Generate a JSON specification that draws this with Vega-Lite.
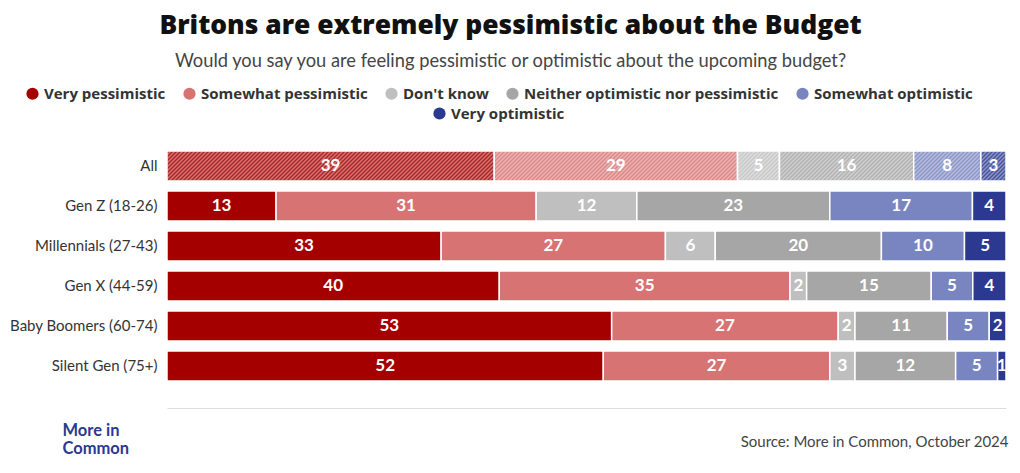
{
  "$schema": "https://vega.github.io/schema/vega-lite/v6.json",
  "width": 839,
  "height": 240,
  "autosize": {"type": "none"},
  "padding": {"left": 167, "top": 146, "right": 14, "bottom": 87},
  "background": "white",
  "config": {
    "font": "Lato",
    "view": {"stroke": null},
    "legend": {"labelFont": "Open Sans", "labelFontSize": 15, "labelFontWeight": "bold", "labelColor": "#333333", "labelLimit": 0, "symbolSize": 150, "symbolStrokeWidth": 0, "labelOffset": 4, "columnPadding": 16}
  },
  "title": {
    "text": "Britons are extremely pessimistic about the Budget",
    "subtitle": "Would you say you are feeling pessimistic or optimistic about the upcoming budget?",
    "anchor": "middle",
    "frame": "group",
    "dx": -76,
    "font": "Open Sans",
    "fontSize": 26.4,
    "fontWeight": 800,
    "color": "#111111",
    "subtitleFont": "Lato",
    "subtitleFontSize": 18.3,
    "subtitleColor": "#444444",
    "subtitleFontWeight": "normal",
    "subtitlePadding": 13,
    "offset": 16
  },
  "data": {
    "values": [
      {"group": "All", "category": "Very pessimistic", "order": 1, "value": 39},
      {"group": "All", "category": "Somewhat pessimistic", "order": 2, "value": 29},
      {"group": "All", "category": "Don't know", "order": 3, "value": 5},
      {"group": "All", "category": "Neither optimistic nor pessimistic", "order": 4, "value": 16},
      {"group": "All", "category": "Somewhat optimistic", "order": 5, "value": 8},
      {"group": "All", "category": "Very optimistic", "order": 6, "value": 3},
      {"group": "Gen Z (18-26)", "category": "Very pessimistic", "order": 1, "value": 13},
      {"group": "Gen Z (18-26)", "category": "Somewhat pessimistic", "order": 2, "value": 31},
      {"group": "Gen Z (18-26)", "category": "Don't know", "order": 3, "value": 12},
      {"group": "Gen Z (18-26)", "category": "Neither optimistic nor pessimistic", "order": 4, "value": 23},
      {"group": "Gen Z (18-26)", "category": "Somewhat optimistic", "order": 5, "value": 17},
      {"group": "Gen Z (18-26)", "category": "Very optimistic", "order": 6, "value": 4},
      {"group": "Millennials (27-43)", "category": "Very pessimistic", "order": 1, "value": 33},
      {"group": "Millennials (27-43)", "category": "Somewhat pessimistic", "order": 2, "value": 27},
      {"group": "Millennials (27-43)", "category": "Don't know", "order": 3, "value": 6},
      {"group": "Millennials (27-43)", "category": "Neither optimistic nor pessimistic", "order": 4, "value": 20},
      {"group": "Millennials (27-43)", "category": "Somewhat optimistic", "order": 5, "value": 10},
      {"group": "Millennials (27-43)", "category": "Very optimistic", "order": 6, "value": 5},
      {"group": "Gen X (44-59)", "category": "Very pessimistic", "order": 1, "value": 40},
      {"group": "Gen X (44-59)", "category": "Somewhat pessimistic", "order": 2, "value": 35},
      {"group": "Gen X (44-59)", "category": "Don't know", "order": 3, "value": 2},
      {"group": "Gen X (44-59)", "category": "Neither optimistic nor pessimistic", "order": 4, "value": 15},
      {"group": "Gen X (44-59)", "category": "Somewhat optimistic", "order": 5, "value": 5},
      {"group": "Gen X (44-59)", "category": "Very optimistic", "order": 6, "value": 4},
      {"group": "Baby Boomers (60-74)", "category": "Very pessimistic", "order": 1, "value": 53},
      {"group": "Baby Boomers (60-74)", "category": "Somewhat pessimistic", "order": 2, "value": 27},
      {"group": "Baby Boomers (60-74)", "category": "Don't know", "order": 3, "value": 2},
      {"group": "Baby Boomers (60-74)", "category": "Neither optimistic nor pessimistic", "order": 4, "value": 11},
      {"group": "Baby Boomers (60-74)", "category": "Somewhat optimistic", "order": 5, "value": 5},
      {"group": "Baby Boomers (60-74)", "category": "Very optimistic", "order": 6, "value": 2},
      {"group": "Silent Gen (75+)", "category": "Very pessimistic", "order": 1, "value": 52},
      {"group": "Silent Gen (75+)", "category": "Somewhat pessimistic", "order": 2, "value": 27},
      {"group": "Silent Gen (75+)", "category": "Don't know", "order": 3, "value": 3},
      {"group": "Silent Gen (75+)", "category": "Neither optimistic nor pessimistic", "order": 4, "value": 12},
      {"group": "Silent Gen (75+)", "category": "Somewhat optimistic", "order": 5, "value": 5},
      {"group": "Silent Gen (75+)", "category": "Very optimistic", "order": 6, "value": 1}
    ]
  },
  "encoding": {
    "y": {
      "field": "group",
      "type": "nominal",
      "sort": ["All", "Gen Z (18-26)", "Millennials (27-43)", "Gen X (44-59)", "Baby Boomers (60-74)", "Silent Gen (75+)"],
      "scale": {"paddingInner": 0.25, "paddingOuter": 0.125},
      "axis": {
        "domain": false,
        "ticks": false,
        "labelFontSize": 15,
        "labelColor": "#333333",
        "labelPadding": 10,
        "title": ["More in", "Common"],
        "titleAngle": 0,
        "titleX": -105,
        "titleY": 289,
        "titleAlign": "left",
        "titleBaseline": "alphabetic",
        "titleFontSize": 16.5,
        "titleFontWeight": "bold",
        "titleColor": "#2b3990",
        "titleLineHeight": 18
      }
    }
  },
  "layer": [
    {
      "transform": [{"filter": "datum.category === 'Very optimistic'"}],
      "mark": {"type": "point", "filled": true, "opacity": 1, "size": 4, "color": "#2b3990"},
      "encoding": {
        "x": {"field": "value", "type": "quantitative", "stack": "normalize", "bandPosition": 0.5, "scale": {"domain": [0, 1]}},
        "shape": {
          "field": "category",
          "type": "nominal",
          "scale": {"range": ["circle"]},
          "legend": {"title": null, "orient": "none", "direction": "horizontal", "legendX": 265, "legendY": -40, "symbolType": "circle", "symbolFillColor": "#2b3990"}
        }
      }
    },
    {
      "mark": {"type": "bar", "stroke": "white", "strokeWidth": 1.5},
      "encoding": {
        "x": {
          "field": "value",
          "type": "quantitative",
          "stack": "normalize",
          "scale": {"domain": [0, 1]},
          "axis": {
            "orient": "bottom",
            "offset": 22,
            "domain": true,
            "domainColor": "#dddddd",
            "labels": false,
            "ticks": false,
            "grid": false,
            "title": "Source: More in Common, October 2024",
            "titleFontSize": 15,
            "titleFontWeight": "normal",
            "titleColor": "#444444",
            "titleAnchor": "end",
            "titleAlign": "right",
            "titleX": 841,
            "titleY": 38,
            "titleBaseline": "alphabetic"
          }
        },
        "color": {
          "field": "category",
          "type": "nominal",
          "scale": {
            "domain": ["Very pessimistic", "Somewhat pessimistic", "Don't know", "Neither optimistic nor pessimistic", "Somewhat optimistic", "Very optimistic"],
            "range": ["#a50000", "#d77373", "#bfbfbf", "#a6a6a6", "#7985c0", "#2b3990"]
          },
          "legend": {
            "title": null,
            "orient": "none",
            "direction": "horizontal",
            "legendX": -142,
            "legendY": -60,
            "symbolType": "circle",
            "values": ["Very pessimistic", "Somewhat pessimistic", "Don't know", "Neither optimistic nor pessimistic", "Somewhat optimistic"]
          }
        },
        "order": {"field": "order", "type": "quantitative"}
      }
    },
    {
      "transform": [
        {"filter": "datum.group === 'All'"},
        {"aggregate": [{"op": "sum", "field": "value", "as": "total"}], "groupby": ["group"]}
      ],
      "mark": {
        "type": "bar",
        "opacity": 1,
        "fill": {
          "gradient": "linear",
          "x1": 0, "y1": 0, "x2": 1.19037, "y2": 0.042564,
          "stops": [
            {"offset": 0.000, "color": "#fff7"}, {"offset": 0.002, "color": "#fff2"}, {"offset": 0.004, "color": "#fff7"}, {"offset": 0.006, "color": "#fff2"}, {"offset": 0.008, "color": "#fff7"}, {"offset": 0.010, "color": "#fff2"}, {"offset": 0.012, "color": "#fff7"}, {"offset": 0.014, "color": "#fff2"}, {"offset": 0.016, "color": "#fff7"}, {"offset": 0.018, "color": "#fff2"}, {"offset": 0.020, "color": "#fff7"}, {"offset": 0.022, "color": "#fff2"}, {"offset": 0.024, "color": "#fff7"}, {"offset": 0.026, "color": "#fff2"}, {"offset": 0.028, "color": "#fff7"}, {"offset": 0.030, "color": "#fff2"}, {"offset": 0.032, "color": "#fff7"}, {"offset": 0.034, "color": "#fff2"}, {"offset": 0.036, "color": "#fff7"}, {"offset": 0.038, "color": "#fff2"},
            {"offset": 0.040, "color": "#fff7"}, {"offset": 0.042, "color": "#fff2"}, {"offset": 0.044, "color": "#fff7"}, {"offset": 0.046, "color": "#fff2"}, {"offset": 0.048, "color": "#fff7"}, {"offset": 0.050, "color": "#fff2"}, {"offset": 0.052, "color": "#fff7"}, {"offset": 0.054, "color": "#fff2"}, {"offset": 0.056, "color": "#fff7"}, {"offset": 0.058, "color": "#fff2"}, {"offset": 0.060, "color": "#fff7"}, {"offset": 0.062, "color": "#fff2"}, {"offset": 0.064, "color": "#fff7"}, {"offset": 0.066, "color": "#fff2"}, {"offset": 0.068, "color": "#fff7"}, {"offset": 0.070, "color": "#fff2"}, {"offset": 0.072, "color": "#fff7"}, {"offset": 0.074, "color": "#fff2"}, {"offset": 0.076, "color": "#fff7"}, {"offset": 0.078, "color": "#fff2"},
            {"offset": 0.080, "color": "#fff7"}, {"offset": 0.082, "color": "#fff2"}, {"offset": 0.084, "color": "#fff7"}, {"offset": 0.086, "color": "#fff2"}, {"offset": 0.088, "color": "#fff7"}, {"offset": 0.090, "color": "#fff2"}, {"offset": 0.092, "color": "#fff7"}, {"offset": 0.094, "color": "#fff2"}, {"offset": 0.096, "color": "#fff7"}, {"offset": 0.098, "color": "#fff2"}, {"offset": 0.100, "color": "#fff7"}, {"offset": 0.102, "color": "#fff2"}, {"offset": 0.104, "color": "#fff7"}, {"offset": 0.106, "color": "#fff2"}, {"offset": 0.108, "color": "#fff7"}, {"offset": 0.110, "color": "#fff2"}, {"offset": 0.112, "color": "#fff7"}, {"offset": 0.114, "color": "#fff2"}, {"offset": 0.116, "color": "#fff7"}, {"offset": 0.118, "color": "#fff2"},
            {"offset": 0.120, "color": "#fff7"}, {"offset": 0.122, "color": "#fff2"}, {"offset": 0.124, "color": "#fff7"}, {"offset": 0.126, "color": "#fff2"}, {"offset": 0.128, "color": "#fff7"}, {"offset": 0.130, "color": "#fff2"}, {"offset": 0.132, "color": "#fff7"}, {"offset": 0.134, "color": "#fff2"}, {"offset": 0.136, "color": "#fff7"}, {"offset": 0.138, "color": "#fff2"}, {"offset": 0.140, "color": "#fff7"}, {"offset": 0.142, "color": "#fff2"}, {"offset": 0.144, "color": "#fff7"}, {"offset": 0.146, "color": "#fff2"}, {"offset": 0.148, "color": "#fff7"}, {"offset": 0.150, "color": "#fff2"}, {"offset": 0.152, "color": "#fff7"}, {"offset": 0.154, "color": "#fff2"}, {"offset": 0.156, "color": "#fff7"}, {"offset": 0.158, "color": "#fff2"},
            {"offset": 0.160, "color": "#fff7"}, {"offset": 0.162, "color": "#fff2"}, {"offset": 0.164, "color": "#fff7"}, {"offset": 0.166, "color": "#fff2"}, {"offset": 0.168, "color": "#fff7"}, {"offset": 0.170, "color": "#fff2"}, {"offset": 0.172, "color": "#fff7"}, {"offset": 0.174, "color": "#fff2"}, {"offset": 0.176, "color": "#fff7"}, {"offset": 0.178, "color": "#fff2"}, {"offset": 0.180, "color": "#fff7"}, {"offset": 0.182, "color": "#fff2"}, {"offset": 0.184, "color": "#fff7"}, {"offset": 0.186, "color": "#fff2"}, {"offset": 0.188, "color": "#fff7"}, {"offset": 0.190, "color": "#fff2"}, {"offset": 0.192, "color": "#fff7"}, {"offset": 0.194, "color": "#fff2"}, {"offset": 0.196, "color": "#fff7"}, {"offset": 0.198, "color": "#fff2"},
            {"offset": 0.200, "color": "#fff7"}, {"offset": 0.202, "color": "#fff2"}, {"offset": 0.204, "color": "#fff7"}, {"offset": 0.206, "color": "#fff2"}, {"offset": 0.208, "color": "#fff7"}, {"offset": 0.210, "color": "#fff2"}, {"offset": 0.212, "color": "#fff7"}, {"offset": 0.214, "color": "#fff2"}, {"offset": 0.216, "color": "#fff7"}, {"offset": 0.218, "color": "#fff2"}, {"offset": 0.220, "color": "#fff7"}, {"offset": 0.222, "color": "#fff2"}, {"offset": 0.224, "color": "#fff7"}, {"offset": 0.226, "color": "#fff2"}, {"offset": 0.228, "color": "#fff7"}, {"offset": 0.230, "color": "#fff2"}, {"offset": 0.232, "color": "#fff7"}, {"offset": 0.234, "color": "#fff2"}, {"offset": 0.236, "color": "#fff7"}, {"offset": 0.238, "color": "#fff2"},
            {"offset": 0.240, "color": "#fff7"}, {"offset": 0.242, "color": "#fff2"}, {"offset": 0.244, "color": "#fff7"}, {"offset": 0.246, "color": "#fff2"}, {"offset": 0.248, "color": "#fff7"}, {"offset": 0.250, "color": "#fff2"}, {"offset": 0.252, "color": "#fff7"}, {"offset": 0.254, "color": "#fff2"}, {"offset": 0.256, "color": "#fff7"}, {"offset": 0.258, "color": "#fff2"}, {"offset": 0.260, "color": "#fff7"}, {"offset": 0.262, "color": "#fff2"}, {"offset": 0.264, "color": "#fff7"}, {"offset": 0.266, "color": "#fff2"}, {"offset": 0.268, "color": "#fff7"}, {"offset": 0.270, "color": "#fff2"}, {"offset": 0.272, "color": "#fff7"}, {"offset": 0.274, "color": "#fff2"}, {"offset": 0.276, "color": "#fff7"}, {"offset": 0.278, "color": "#fff2"},
            {"offset": 0.280, "color": "#fff7"}, {"offset": 0.282, "color": "#fff2"}, {"offset": 0.284, "color": "#fff7"}, {"offset": 0.286, "color": "#fff2"}, {"offset": 0.288, "color": "#fff7"}, {"offset": 0.290, "color": "#fff2"}, {"offset": 0.292, "color": "#fff7"}, {"offset": 0.294, "color": "#fff2"}, {"offset": 0.296, "color": "#fff7"}, {"offset": 0.298, "color": "#fff2"}, {"offset": 0.300, "color": "#fff7"}, {"offset": 0.302, "color": "#fff2"}, {"offset": 0.304, "color": "#fff7"}, {"offset": 0.306, "color": "#fff2"}, {"offset": 0.308, "color": "#fff7"}, {"offset": 0.310, "color": "#fff2"}, {"offset": 0.312, "color": "#fff7"}, {"offset": 0.314, "color": "#fff2"}, {"offset": 0.316, "color": "#fff7"}, {"offset": 0.318, "color": "#fff2"},
            {"offset": 0.320, "color": "#fff7"}, {"offset": 0.322, "color": "#fff2"}, {"offset": 0.324, "color": "#fff7"}, {"offset": 0.326, "color": "#fff2"}, {"offset": 0.328, "color": "#fff7"}, {"offset": 0.330, "color": "#fff2"}, {"offset": 0.332, "color": "#fff7"}, {"offset": 0.334, "color": "#fff2"}, {"offset": 0.336, "color": "#fff7"}, {"offset": 0.338, "color": "#fff2"}, {"offset": 0.340, "color": "#fff7"}, {"offset": 0.342, "color": "#fff2"}, {"offset": 0.344, "color": "#fff7"}, {"offset": 0.346, "color": "#fff2"}, {"offset": 0.348, "color": "#fff7"}, {"offset": 0.350, "color": "#fff2"}, {"offset": 0.352, "color": "#fff7"}, {"offset": 0.354, "color": "#fff2"}, {"offset": 0.356, "color": "#fff7"}, {"offset": 0.358, "color": "#fff2"},
            {"offset": 0.360, "color": "#fff7"}, {"offset": 0.362, "color": "#fff2"}, {"offset": 0.364, "color": "#fff7"}, {"offset": 0.366, "color": "#fff2"}, {"offset": 0.368, "color": "#fff7"}, {"offset": 0.370, "color": "#fff2"}, {"offset": 0.372, "color": "#fff7"}, {"offset": 0.374, "color": "#fff2"}, {"offset": 0.376, "color": "#fff7"}, {"offset": 0.378, "color": "#fff2"}, {"offset": 0.380, "color": "#fff7"}, {"offset": 0.382, "color": "#fff2"}, {"offset": 0.384, "color": "#fff7"}, {"offset": 0.386, "color": "#fff2"}, {"offset": 0.388, "color": "#fff7"}, {"offset": 0.390, "color": "#fff2"}, {"offset": 0.392, "color": "#fff7"}, {"offset": 0.394, "color": "#fff2"}, {"offset": 0.396, "color": "#fff7"}, {"offset": 0.398, "color": "#fff2"},
            {"offset": 0.400, "color": "#fff7"}, {"offset": 0.402, "color": "#fff2"}, {"offset": 0.404, "color": "#fff7"}, {"offset": 0.406, "color": "#fff2"}, {"offset": 0.408, "color": "#fff7"}, {"offset": 0.410, "color": "#fff2"}, {"offset": 0.412, "color": "#fff7"}, {"offset": 0.414, "color": "#fff2"}, {"offset": 0.416, "color": "#fff7"}, {"offset": 0.418, "color": "#fff2"}, {"offset": 0.420, "color": "#fff7"}, {"offset": 0.422, "color": "#fff2"}, {"offset": 0.424, "color": "#fff7"}, {"offset": 0.426, "color": "#fff2"}, {"offset": 0.428, "color": "#fff7"}, {"offset": 0.430, "color": "#fff2"}, {"offset": 0.432, "color": "#fff7"}, {"offset": 0.434, "color": "#fff2"}, {"offset": 0.436, "color": "#fff7"}, {"offset": 0.438, "color": "#fff2"},
            {"offset": 0.440, "color": "#fff7"}, {"offset": 0.442, "color": "#fff2"}, {"offset": 0.444, "color": "#fff7"}, {"offset": 0.446, "color": "#fff2"}, {"offset": 0.448, "color": "#fff7"}, {"offset": 0.450, "color": "#fff2"}, {"offset": 0.452, "color": "#fff7"}, {"offset": 0.454, "color": "#fff2"}, {"offset": 0.456, "color": "#fff7"}, {"offset": 0.458, "color": "#fff2"}, {"offset": 0.460, "color": "#fff7"}, {"offset": 0.462, "color": "#fff2"}, {"offset": 0.464, "color": "#fff7"}, {"offset": 0.466, "color": "#fff2"}, {"offset": 0.468, "color": "#fff7"}, {"offset": 0.470, "color": "#fff2"}, {"offset": 0.472, "color": "#fff7"}, {"offset": 0.474, "color": "#fff2"}, {"offset": 0.476, "color": "#fff7"}, {"offset": 0.478, "color": "#fff2"},
            {"offset": 0.480, "color": "#fff7"}, {"offset": 0.482, "color": "#fff2"}, {"offset": 0.484, "color": "#fff7"}, {"offset": 0.486, "color": "#fff2"}, {"offset": 0.488, "color": "#fff7"}, {"offset": 0.490, "color": "#fff2"}, {"offset": 0.492, "color": "#fff7"}, {"offset": 0.494, "color": "#fff2"}, {"offset": 0.496, "color": "#fff7"}, {"offset": 0.498, "color": "#fff2"}, {"offset": 0.500, "color": "#fff7"}, {"offset": 0.502, "color": "#fff2"}, {"offset": 0.504, "color": "#fff7"}, {"offset": 0.506, "color": "#fff2"}, {"offset": 0.508, "color": "#fff7"}, {"offset": 0.510, "color": "#fff2"}, {"offset": 0.512, "color": "#fff7"}, {"offset": 0.514, "color": "#fff2"}, {"offset": 0.516, "color": "#fff7"}, {"offset": 0.518, "color": "#fff2"},
            {"offset": 0.520, "color": "#fff7"}, {"offset": 0.522, "color": "#fff2"}, {"offset": 0.524, "color": "#fff7"}, {"offset": 0.526, "color": "#fff2"}, {"offset": 0.528, "color": "#fff7"}, {"offset": 0.530, "color": "#fff2"}, {"offset": 0.532, "color": "#fff7"}, {"offset": 0.534, "color": "#fff2"}, {"offset": 0.536, "color": "#fff7"}, {"offset": 0.538, "color": "#fff2"}, {"offset": 0.540, "color": "#fff7"}, {"offset": 0.542, "color": "#fff2"}, {"offset": 0.544, "color": "#fff7"}, {"offset": 0.546, "color": "#fff2"}, {"offset": 0.548, "color": "#fff7"}, {"offset": 0.550, "color": "#fff2"}, {"offset": 0.552, "color": "#fff7"}, {"offset": 0.554, "color": "#fff2"}, {"offset": 0.556, "color": "#fff7"}, {"offset": 0.558, "color": "#fff2"},
            {"offset": 0.560, "color": "#fff7"}, {"offset": 0.562, "color": "#fff2"}, {"offset": 0.564, "color": "#fff7"}, {"offset": 0.566, "color": "#fff2"}, {"offset": 0.568, "color": "#fff7"}, {"offset": 0.570, "color": "#fff2"}, {"offset": 0.572, "color": "#fff7"}, {"offset": 0.574, "color": "#fff2"}, {"offset": 0.576, "color": "#fff7"}, {"offset": 0.578, "color": "#fff2"}, {"offset": 0.580, "color": "#fff7"}, {"offset": 0.582, "color": "#fff2"}, {"offset": 0.584, "color": "#fff7"}, {"offset": 0.586, "color": "#fff2"}, {"offset": 0.588, "color": "#fff7"}, {"offset": 0.590, "color": "#fff2"}, {"offset": 0.592, "color": "#fff7"}, {"offset": 0.594, "color": "#fff2"}, {"offset": 0.596, "color": "#fff7"}, {"offset": 0.598, "color": "#fff2"},
            {"offset": 0.600, "color": "#fff7"}, {"offset": 0.602, "color": "#fff2"}, {"offset": 0.604, "color": "#fff7"}, {"offset": 0.606, "color": "#fff2"}, {"offset": 0.608, "color": "#fff7"}, {"offset": 0.610, "color": "#fff2"}, {"offset": 0.612, "color": "#fff7"}, {"offset": 0.614, "color": "#fff2"}, {"offset": 0.616, "color": "#fff7"}, {"offset": 0.618, "color": "#fff2"}, {"offset": 0.620, "color": "#fff7"}, {"offset": 0.622, "color": "#fff2"}, {"offset": 0.624, "color": "#fff7"}, {"offset": 0.626, "color": "#fff2"}, {"offset": 0.628, "color": "#fff7"}, {"offset": 0.630, "color": "#fff2"}, {"offset": 0.632, "color": "#fff7"}, {"offset": 0.634, "color": "#fff2"}, {"offset": 0.636, "color": "#fff7"}, {"offset": 0.638, "color": "#fff2"},
            {"offset": 0.640, "color": "#fff7"}, {"offset": 0.642, "color": "#fff2"}, {"offset": 0.644, "color": "#fff7"}, {"offset": 0.646, "color": "#fff2"}, {"offset": 0.648, "color": "#fff7"}, {"offset": 0.650, "color": "#fff2"}, {"offset": 0.652, "color": "#fff7"}, {"offset": 0.654, "color": "#fff2"}, {"offset": 0.656, "color": "#fff7"}, {"offset": 0.658, "color": "#fff2"}, {"offset": 0.660, "color": "#fff7"}, {"offset": 0.662, "color": "#fff2"}, {"offset": 0.664, "color": "#fff7"}, {"offset": 0.666, "color": "#fff2"}, {"offset": 0.668, "color": "#fff7"}, {"offset": 0.670, "color": "#fff2"}, {"offset": 0.672, "color": "#fff7"}, {"offset": 0.674, "color": "#fff2"}, {"offset": 0.676, "color": "#fff7"}, {"offset": 0.678, "color": "#fff2"},
            {"offset": 0.680, "color": "#fff7"}, {"offset": 0.682, "color": "#fff2"}, {"offset": 0.684, "color": "#fff7"}, {"offset": 0.686, "color": "#fff2"}, {"offset": 0.688, "color": "#fff7"}, {"offset": 0.690, "color": "#fff2"}, {"offset": 0.692, "color": "#fff7"}, {"offset": 0.694, "color": "#fff2"}, {"offset": 0.696, "color": "#fff7"}, {"offset": 0.698, "color": "#fff2"}, {"offset": 0.700, "color": "#fff7"}, {"offset": 0.702, "color": "#fff2"}, {"offset": 0.704, "color": "#fff7"}, {"offset": 0.706, "color": "#fff2"}, {"offset": 0.708, "color": "#fff7"}, {"offset": 0.710, "color": "#fff2"}, {"offset": 0.712, "color": "#fff7"}, {"offset": 0.714, "color": "#fff2"}, {"offset": 0.716, "color": "#fff7"}, {"offset": 0.718, "color": "#fff2"},
            {"offset": 0.720, "color": "#fff7"}, {"offset": 0.722, "color": "#fff2"}, {"offset": 0.724, "color": "#fff7"}, {"offset": 0.726, "color": "#fff2"}, {"offset": 0.728, "color": "#fff7"}, {"offset": 0.730, "color": "#fff2"}, {"offset": 0.732, "color": "#fff7"}, {"offset": 0.734, "color": "#fff2"}, {"offset": 0.736, "color": "#fff7"}, {"offset": 0.738, "color": "#fff2"}, {"offset": 0.740, "color": "#fff7"}, {"offset": 0.742, "color": "#fff2"}, {"offset": 0.744, "color": "#fff7"}, {"offset": 0.746, "color": "#fff2"}, {"offset": 0.748, "color": "#fff7"}, {"offset": 0.750, "color": "#fff2"}, {"offset": 0.752, "color": "#fff7"}, {"offset": 0.754, "color": "#fff2"}, {"offset": 0.756, "color": "#fff7"}, {"offset": 0.758, "color": "#fff2"},
            {"offset": 0.760, "color": "#fff7"}, {"offset": 0.762, "color": "#fff2"}, {"offset": 0.764, "color": "#fff7"}, {"offset": 0.766, "color": "#fff2"}, {"offset": 0.768, "color": "#fff7"}, {"offset": 0.770, "color": "#fff2"}, {"offset": 0.772, "color": "#fff7"}, {"offset": 0.774, "color": "#fff2"}, {"offset": 0.776, "color": "#fff7"}, {"offset": 0.778, "color": "#fff2"}, {"offset": 0.780, "color": "#fff7"}, {"offset": 0.782, "color": "#fff2"}, {"offset": 0.784, "color": "#fff7"}, {"offset": 0.786, "color": "#fff2"}, {"offset": 0.788, "color": "#fff7"}, {"offset": 0.790, "color": "#fff2"}, {"offset": 0.792, "color": "#fff7"}, {"offset": 0.794, "color": "#fff2"}, {"offset": 0.796, "color": "#fff7"}, {"offset": 0.798, "color": "#fff2"},
            {"offset": 0.800, "color": "#fff7"}, {"offset": 0.802, "color": "#fff2"}, {"offset": 0.804, "color": "#fff7"}, {"offset": 0.806, "color": "#fff2"}, {"offset": 0.808, "color": "#fff7"}, {"offset": 0.810, "color": "#fff2"}, {"offset": 0.812, "color": "#fff7"}, {"offset": 0.814, "color": "#fff2"}, {"offset": 0.816, "color": "#fff7"}, {"offset": 0.818, "color": "#fff2"}, {"offset": 0.820, "color": "#fff7"}, {"offset": 0.822, "color": "#fff2"}, {"offset": 0.824, "color": "#fff7"}, {"offset": 0.826, "color": "#fff2"}, {"offset": 0.828, "color": "#fff7"}, {"offset": 0.830, "color": "#fff2"}, {"offset": 0.832, "color": "#fff7"}, {"offset": 0.834, "color": "#fff2"}, {"offset": 0.836, "color": "#fff7"}, {"offset": 0.838, "color": "#fff2"},
            {"offset": 0.840, "color": "#fff7"}, {"offset": 0.842, "color": "#fff2"}, {"offset": 0.844, "color": "#fff7"}, {"offset": 0.846, "color": "#fff2"}, {"offset": 0.848, "color": "#fff7"}, {"offset": 0.850, "color": "#fff2"}, {"offset": 0.852, "color": "#fff7"}, {"offset": 0.854, "color": "#fff2"}, {"offset": 0.856, "color": "#fff7"}, {"offset": 0.858, "color": "#fff2"}, {"offset": 0.860, "color": "#fff7"}, {"offset": 0.862, "color": "#fff2"}, {"offset": 0.864, "color": "#fff7"}, {"offset": 0.866, "color": "#fff2"}, {"offset": 0.868, "color": "#fff7"}, {"offset": 0.870, "color": "#fff2"}
          ]
        }
      },
      "encoding": {
        "x": {"field": "total", "type": "quantitative", "stack": "normalize", "scale": {"domain": [0, 1]}}
      }
    },
    {
      "mark": {"type": "text", "color": "white", "fontWeight": "bold", "fontSize": 17, "baseline": "middle", "align": "center"},
      "encoding": {
        "x": {"field": "value", "type": "quantitative", "stack": "normalize", "bandPosition": 0.5, "scale": {"domain": [0, 1]}},
        "detail": {"field": "category", "type": "nominal"},
        "order": {"field": "order", "type": "quantitative"},
        "text": {"field": "value", "type": "quantitative"}
      }
    }
  ]
}
